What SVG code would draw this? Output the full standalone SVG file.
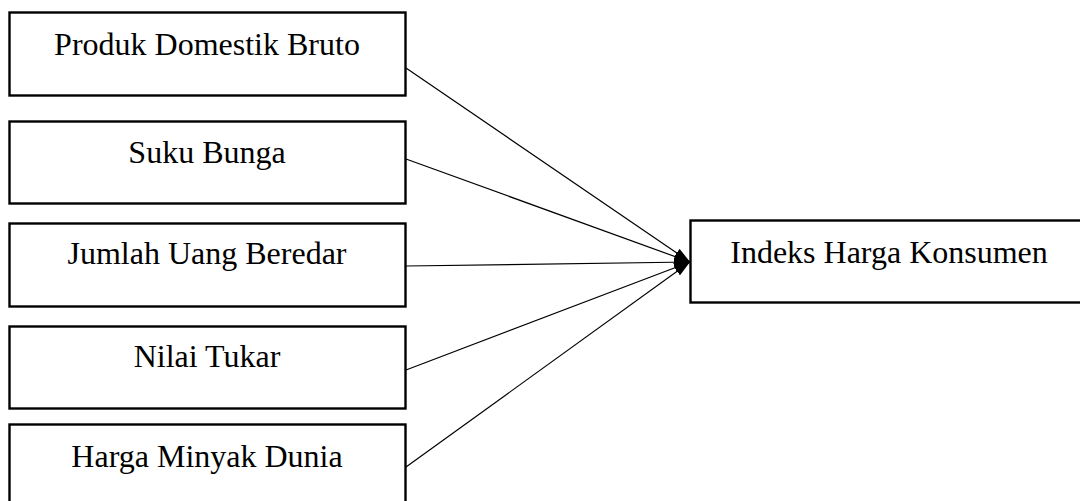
<svg xmlns="http://www.w3.org/2000/svg" width="1080" height="501" viewBox="0 0 1080 501">
<style>
.box{fill:#fff;stroke:#000;stroke-width:2.4}
.lbl{font-family:"Liberation Serif","Times New Roman",serif;font-size:32px;fill:#000;text-anchor:middle}
.con{stroke:#000;stroke-width:1.2;fill:none;marker-end:url(#ah)}
</style>
<defs>
<marker id="ah" viewBox="0 0 16 10" refX="16" refY="5" markerWidth="16" markerHeight="10" markerUnits="userSpaceOnUse" orient="auto">
<path d="M0,0 L16,5 L0,10 Z" fill="#000"/>
</marker>
</defs>
<rect width="1080" height="501" fill="#fff"/>
<g id="n1"><rect class="box" x="9.5" y="12.5" width="396" height="83"/><text class="lbl" x="207" y="55">Produk Domestik Bruto</text></g>
<g id="n2"><rect class="box" x="9.5" y="121.5" width="396" height="82"/><text class="lbl" x="207" y="163">Suku Bunga</text></g>
<g id="n3"><rect class="box" x="9.5" y="223.5" width="396" height="83"/><text class="lbl" x="207" y="264">Jumlah Uang Beredar</text></g>
<g id="n4"><rect class="box" x="9.5" y="326.5" width="396" height="82"/><text class="lbl" x="207" y="367">Nilai Tukar</text></g>
<g id="n5"><rect class="box" x="9.5" y="424.5" width="396" height="90"/><text class="lbl" x="207" y="467">Harga Minyak Dunia</text></g>
<g id="n6"><rect class="box" x="690.5" y="220.5" width="400" height="82"/><text class="lbl" x="889" y="263">Indeks Harga Konsumen</text></g>
<g id="connectors">
<line class="con" x1="406" y1="68" x2="690" y2="262"/>
<line class="con" x1="406" y1="159" x2="690" y2="262"/>
<line class="con" x1="406" y1="266" x2="690" y2="262"/>
<line class="con" x1="406" y1="370" x2="690" y2="262"/>
<line class="con" x1="406" y1="467" x2="690" y2="262"/>
</g>
</svg>
